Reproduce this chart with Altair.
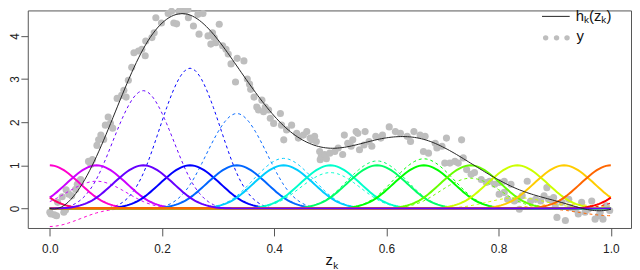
import numpy as np
import pandas as pd
import altair as alt

# ---- data ----
centers = [k / 12 for k in range(-1, 14)]
weights = [1.05, -0.42, 0.63, 2.73, 3.25, 2.20, 1.16, 0.83, 1.10, 1.15, 0.70, 0.25, 0.10, -0.17, 0.50]
colors = ["#FF0066", "#FF00CC", "#CC00FF", "#6600FF", "#0000FF", "#0066FF", "#00CCFF",
          "#00FFCC", "#00FF66", "#00FF00", "#66FF00", "#CCFF00", "#FFCC00", "#FF6600", "#FF0000"]

pts_z = [0.000, 0.002, 0.008, 0.012, 0.014, 0.022, 0.025, 0.028, 0.029, 0.034, 0.039, 0.046, 0.049, 0.052, 0.055,
         0.069, 0.073, 0.076, 0.084, 0.087, 0.091, 0.096, 0.099, 0.104, 0.108, 0.112, 0.120, 0.128, 0.132, 0.136,
         0.140, 0.146, 0.150, 0.158, 0.164, 0.170, 0.171, 0.182, 0.186, 0.189, 0.199, 0.211, 0.217, 0.221, 0.226,
         0.230, 0.234, 0.241, 0.246, 0.247, 0.256, 0.264, 0.266, 0.273, 0.282, 0.287, 0.290, 0.293, 0.296, 0.302,
         0.308, 0.314, 0.318, 0.323, 0.331, 0.334, 0.346, 0.352, 0.356, 0.358, 0.364, 0.369, 0.372, 0.378, 0.381,
         0.384, 0.390, 0.393, 0.399, 0.411, 0.413, 0.417, 0.422, 0.431, 0.440, 0.443, 0.452, 0.458, 0.464, 0.467,
         0.472, 0.475, 0.481, 0.482, 0.484, 0.490, 0.493, 0.499, 0.508, 0.514, 0.522, 0.525, 0.531, 0.537, 0.540,
         0.546, 0.549, 0.552, 0.560, 0.562, 0.569, 0.574, 0.581, 0.590, 0.593, 0.605, 0.616, 0.625, 0.637, 0.643,
         0.649, 0.660, 0.666, 0.669, 0.675, 0.687, 0.690, 0.699, 0.704, 0.707, 0.713, 0.722, 0.728, 0.734, 0.737,
         0.743, 0.751, 0.757, 0.769, 0.778, 0.784, 0.793, 0.801, 0.801, 0.810, 0.810, 0.816, 0.822, 0.828, 0.834,
         0.837, 0.842, 0.851, 0.857, 0.866, 0.875, 0.881, 0.886, 0.889, 0.895, 0.898, 0.901, 0.904, 0.913, 0.919,
         0.925, 0.928, 0.937, 0.942, 0.948, 0.954, 0.960, 0.966, 0.972, 0.978, 0.981, 0.986, 0.992, 0.998]
pts_y = [-0.09, -0.13, -0.15, -0.17, 0.14, 0.27, -0.09, -0.04, 0.43, 0.33, 0.29, 0.44, 0.56, 0.63, 0.67,
         1.09, 1.02, 1.13, 1.46, 1.59, 1.70, 1.60, 1.93, 2.12, 1.97, 1.86, 2.55, 2.62, 2.74, 2.58,
         2.97, 3.27, 3.61, 3.65, 3.69, 3.54, 3.88, 3.96, 4.07, 4.42, 4.30, 4.52, 4.57, 4.30, 4.28,
         4.57, 4.61, 4.57, 4.61, 4.42, 4.23, 4.50, 4.04, 4.52, 4.00, 3.81, 4.07, 3.96, 3.84, 4.27,
         3.77, 3.69, 3.58, 3.35, 2.93, 3.48, 3.42, 3.00, 2.88, 2.76, 2.58, 2.35, 2.28, 2.51, 2.24,
         2.35, 2.28, 2.09, 1.97, 2.20, 1.93, 1.59, 1.82, 1.93, 1.74, 1.63, 1.70, 1.78, 1.63, 1.59,
         1.67, 1.55, 1.32, 1.13, 1.21, 1.25, 1.15, 1.28, 1.32, 1.40, 1.25, 1.70, 1.51, 1.44, 1.59,
         1.78, 1.74, 1.36, 1.47, 1.78, 1.55, 1.44, 1.67, 1.63, 1.70, 1.89, 1.78, 1.74, 1.67, 1.55,
         1.78, 1.70, 1.32, 1.67, 1.28, 1.51, 1.40, 1.44, 1.05, 1.63, 1.05, 1.09, 1.05, 1.59, 1.17,
         0.90, 0.79, 0.83, 0.67, 0.60, 0.63, 0.56, 0.60, 0.33, 0.63, 0.37, 0.21, 0.56, 0.17, 0.21,
         -0.02, 0.29, 0.63, 0.17, 0.21, 0.17, 0.29, 0.48, 0.21, 0.17, 0.25, 0.06, -0.21, 0.14, -0.28,
         0.21, 0.02, -0.02, -0.13, 0.14, -0.09, -0.02, 0.17, -0.25, -0.17, -0.09, -0.25, 0.06, -0.05]

x_ticks = [0.0, 0.2, 0.4, 0.6, 0.8, 1.0]
y_ticks = [0, 1, 2, 3, 4]

# ---- curves: cubic B-spline bumps (peak 1) on the knot grid, and their weighted versions ----
grid = np.linspace(0, 1, 241)


def bump(z, c):
    t = np.abs(z - c) * 12
    return np.where(t < 1, 1 - 1.5 * t ** 2 + 0.75 * t ** 3, np.where(t < 2, (2 - t) ** 3 / 4, 0.0))


frames = []
h = np.zeros_like(grid)
for i, (c, w) in enumerate(zip(centers, weights)):
    b = bump(grid, c)
    frames.append(pd.DataFrame({"z": grid, "v": b, "id": i, "kind": "basis"}))
    frames.append(pd.DataFrame({"z": grid, "v": w * b, "id": i, "kind": "weighted"}))
    h = h + w * b
curves = pd.concat(frames, ignore_index=True)
hdf = pd.DataFrame({"z": grid, "v": h})
pts = pd.DataFrame({"z": pts_z, "v": pts_y})

FONT = "Liberation Sans"
xs = alt.Scale(domain=[-0.0393, 1.036], nice=False, zero=False)
ys = alt.Scale(domain=[-0.455, 4.59], nice=False, zero=False)
xaxis = alt.Axis(values=x_ticks, format=".1f", title=None, tickSize=8, labelPadding=8, domain=False,
                 grid=False, tickColor="#555555", labelColor="#222222", labelFontSize=12, labelFont=FONT,
                 labelFlush=False)
yaxis = alt.Axis(values=y_ticks, format="d", title=None, tickSize=7, labelPadding=2, domain=False,
                 grid=False, tickColor="#555555", labelColor="#222222", labelFontSize=12, labelFont=FONT,
                 labelAngle=270, labelAlign="center", labelBaseline="alphabetic", labelFlush=False)
X = alt.X("z:Q", scale=xs, axis=xaxis)
Y = alt.Y("v:Q", scale=ys, axis=yaxis)

layers = [alt.Chart(pts).mark_circle(size=52, color="#BEBEBE", opacity=1).encode(x=X, y=Y)]

for i in range(len(centers)):
    layers.append(
        alt.Chart(curves).transform_filter((alt.datum.id == i) & (alt.datum.kind == "weighted"))
        .mark_line(color=colors[i], strokeWidth=1, strokeDash=[3, 3]).encode(x=X, y=Y)
    )
solid_order = [0, 1, 2, 4, 5, 6, 7, 8, 9, 10, 11, 12, 14, 13, 3]
for i in solid_order:
    layers.append(
        alt.Chart(curves).transform_filter((alt.datum.id == i) & (alt.datum.kind == "basis"))
        .mark_line(color=colors[i], strokeWidth=2).encode(x=X, y=Y)
    )
layers.append(alt.Chart(hdf).mark_line(color="#222222", strokeWidth=1).encode(x=X, y=Y))


def txt(s, x, y, size, baseline="middle"):
    return alt.Chart(pd.DataFrame({"t": [s]})).mark_text(
        text=s, font=FONT, fontSize=size, align="left", baseline=baseline, color="#111111"
    ).encode(x=alt.value(x), y=alt.value(y))


one = pd.DataFrame({"t": [0]})
# legend
layers.append(alt.Chart(one).mark_rule(color="#222222", strokeWidth=1)
              .encode(x=alt.value(520), x2=alt.value(548), y=alt.value(6)))
for px in [523.7, 534.7, 545.3]:
    layers.append(alt.Chart(one).mark_circle(size=30, color="#BEBEBE", opacity=1)
                  .encode(x=alt.value(px), y=alt.value(27.7)))
layers += [
    txt("h", 554, 6, 15), txt("k", 562.5, 10, 10), txt("(z", 567.5, 6, 15),
    txt("k", 580, 10, 10), txt(")", 585.2, 6, 15),
    txt("y", 555, 26, 15),
]
# axis title z_k
layers += [txt("z", 301, 257.7, 15, "alphabetic"), txt("k", 309, 261, 10, "alphabetic")]

chart = alt.layer(*layers).properties(
    width=610, height=220,
    autosize=alt.AutoSizeParams(type="none"),
    padding={"left": 20, "top": 1, "right": 1, "bottom": 41},
).configure_view(stroke="#555555", strokeWidth=1)

chart.save("out.html", embed_options={"renderer": "svg", "actions": False})
